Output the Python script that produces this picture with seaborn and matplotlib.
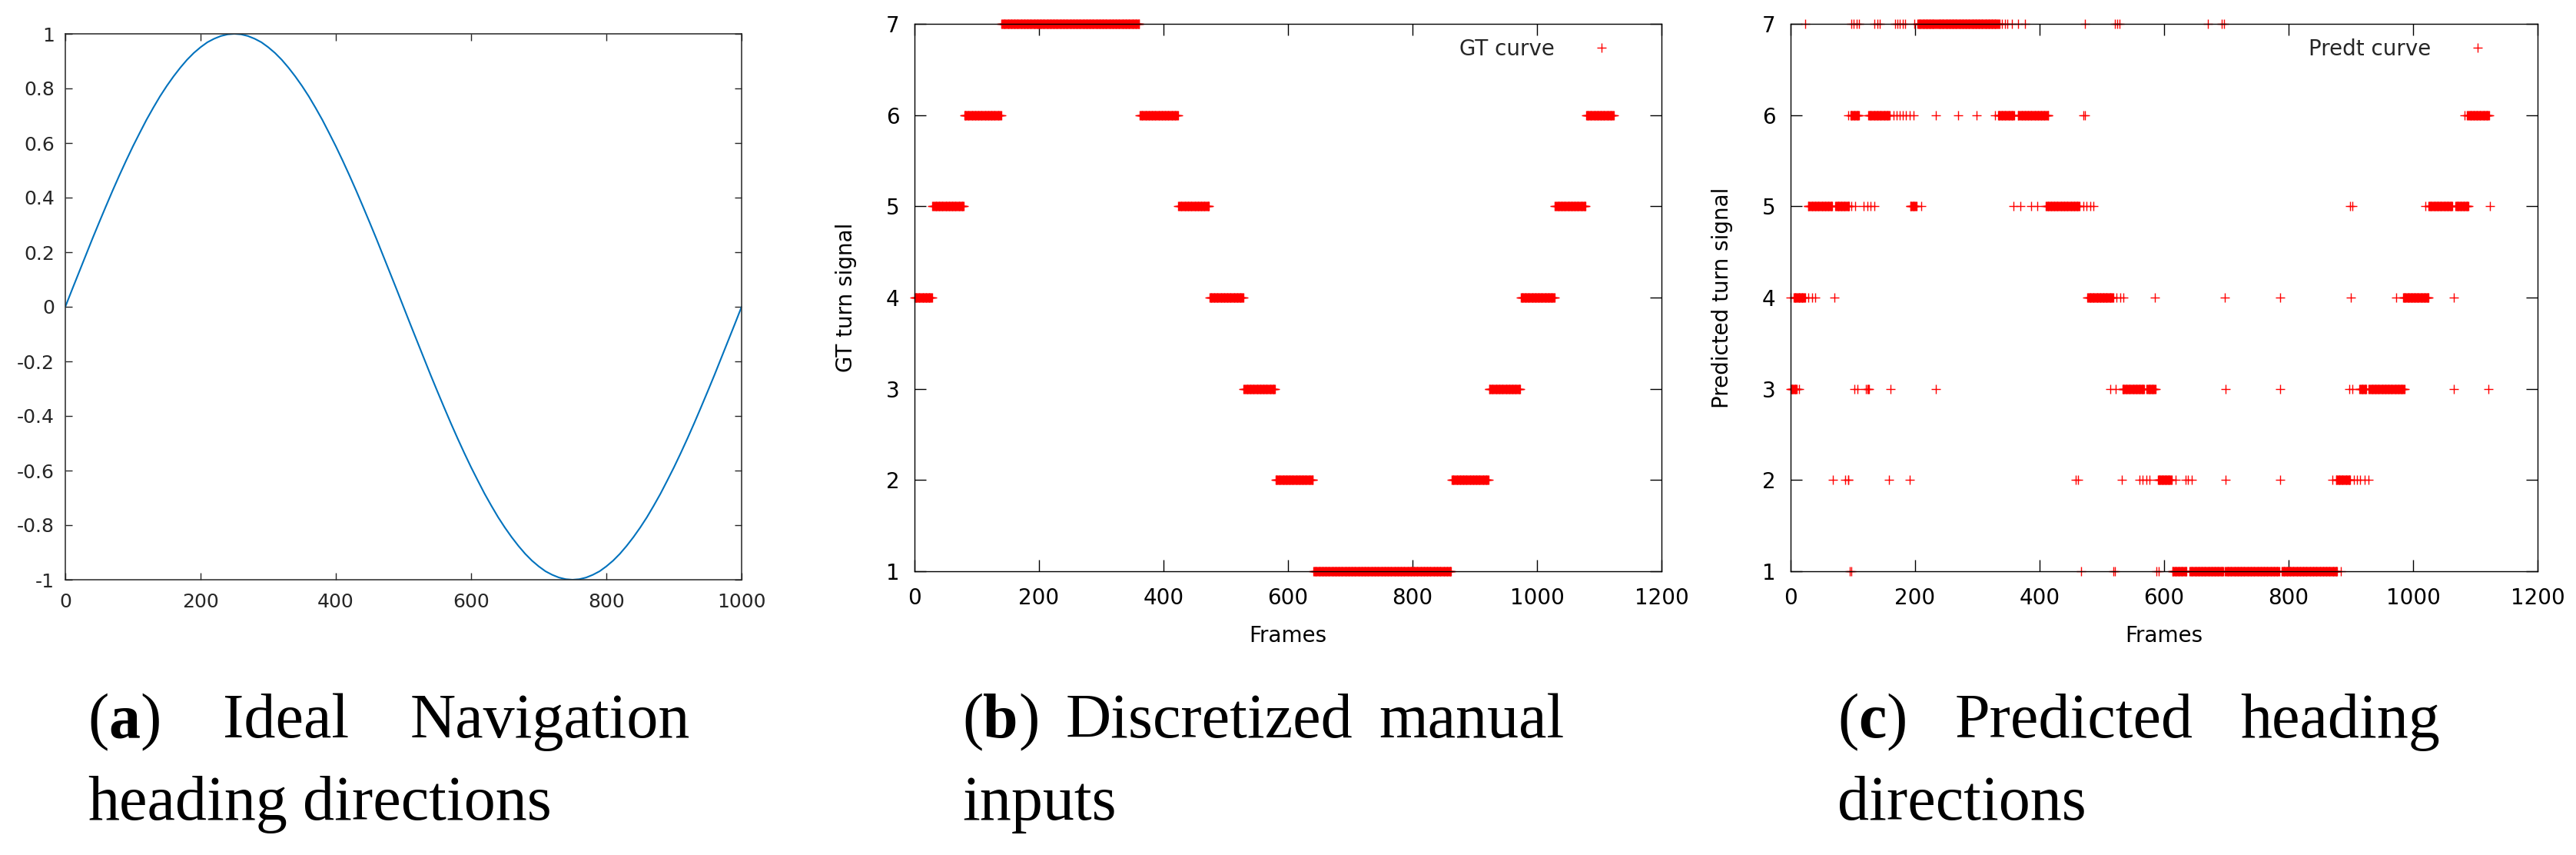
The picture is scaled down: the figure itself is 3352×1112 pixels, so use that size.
import numpy as np
import pandas as pd
import matplotlib
matplotlib.use("Agg")
import matplotlib.pyplot as plt
import seaborn as sns

# ---------------- data ----------------
# (a) ideal navigation heading direction, read every 10 frames (0..1000)
SINE_X = list(range(0, 1001, 10))
SINE_Y = [0.000, 0.063, 0.125, 0.187, 0.249, 0.309, 0.368, 0.426, 0.482, 0.536,
          0.588, 0.637, 0.685, 0.729, 0.771, 0.809, 0.844, 0.876, 0.905, 0.930,
          0.951, 0.969, 0.982, 0.992, 0.998, 1.000, 0.998, 0.992, 0.982, 0.969,
          0.951, 0.930, 0.905, 0.876, 0.844, 0.809, 0.771, 0.729, 0.685, 0.637,
          0.588, 0.536, 0.482, 0.426, 0.368, 0.309, 0.249, 0.187, 0.125, 0.063,
          0.000, -0.063, -0.125, -0.187, -0.249, -0.309, -0.368, -0.426, -0.482, -0.536,
          -0.588, -0.637, -0.685, -0.729, -0.771, -0.809, -0.844, -0.876, -0.905, -0.930,
          -0.951, -0.969, -0.982, -0.992, -0.998, -1.000, -0.998, -0.992, -0.982, -0.969,
          -0.951, -0.930, -0.905, -0.876, -0.844, -0.809, -0.771, -0.729, -0.685, -0.637,
          -0.588, -0.536, -0.482, -0.426, -0.368, -0.309, -0.249, -0.187, -0.125, -0.063,
          0.000]
A_XTICKS = [0, 200, 400, 600, 800, 1000]
A_YTICKS = [-1, -0.8, -0.6, -0.4, -0.2, 0, 0.2, 0.4, 0.6, 0.8, 1]
A_YTICKLABELS = ["-1", "-0.8", "-0.6", "-0.4", "-0.2", "0", "0.2", "0.4", "0.6", "0.8", "1"]

# (b) ground-truth turn signal: runs of (value, first frame, last frame)
GT_VALUE = [4, 5, 6, 7, 6, 5, 4, 3, 2, 1, 2, 3, 4, 5, 6]
GT_START = [0, 29, 80, 140, 362, 424, 474, 529, 580, 641, 863, 923, 974, 1029, 1079]
GT_END = [28, 79, 139, 361, 423, 473, 528, 579, 640, 862, 922, 973, 1028, 1078, 1123]

# (c) predicted turn signal: runs (first frame, last frame) per level
PRED_7 = [(24, 24), (97, 97), (101, 101), (106, 106), (110, 110), (135, 135), (139, 139),
          (143, 143), (168, 168), (171, 171), (175, 175), (180, 180), (184, 184), (199, 199),
          (204, 233), (235, 334), (336, 336), (340, 340), (344, 344), (348, 348), (355, 355),
          (365, 365), (377, 377), (473, 473), (521, 521), (525, 525), (529, 529), (670, 670),
          (692, 692), (696, 696)]
PRED_6 = [(93, 93), (96, 110), (125, 159), (166, 166), (170, 170), (175, 175), (180, 180),
          (185, 185), (191, 191), (197, 197), (233, 233), (269, 269), (299, 299), (328, 328),
          (333, 359), (365, 414), (470, 470), (473, 473), (1083, 1083), (1087, 1122)]
PRED_5 = [(28, 67), (72, 94), (98, 98), (104, 104), (117, 117), (123, 123), (129, 129),
          (135, 135), (192, 202), (210, 210), (358, 358), (369, 369), (386, 386), (396, 396),
          (410, 464), (470, 470), (475, 475), (481, 481), (487, 487), (899, 899), (902, 902),
          (1020, 1020), (1025, 1063), (1068, 1089), (1123, 1123)]
PRED_4 = [(0, 0), (5, 23), (28, 28), (34, 34), (40, 40), (70, 70), (477, 518), (524, 524),
          (530, 530), (535, 535), (585, 585), (697, 697), (787, 787), (900, 900), (973, 973),
          (984, 1025), (1065, 1065)]
PRED_3 = [(0, 10), (14, 14), (103, 103), (108, 108), (121, 121), (124, 126), (160, 160),
          (233, 233), (514, 514), (522, 522), (533, 568), (572, 586), (699, 699), (787, 787),
          (897, 897), (903, 903), (914, 925), (929, 986), (1066, 1066), (1121, 1121)]
PRED_2 = [(68, 68), (88, 88), (92, 93), (158, 158), (191, 191), (458, 458), (462, 462),
          (532, 532), (561, 561), (566, 566), (572, 572), (576, 576), (590, 612), (619, 619),
          (634, 634), (638, 638), (644, 644), (699, 699), (787, 787), (870, 870), (876, 899),
          (905, 905), (910, 910), (915, 915), (922, 922), (928, 928)]
PRED_1 = [(95, 95), (97, 97), (467, 467), (519, 519), (521, 521), (588, 588), (591, 591),
          (613, 636), (641, 695), (698, 785), (789, 878), (884, 884)]
PRED_LEVELS = [7, 6, 5, 4, 3, 2, 1]
PRED_RUNS = [PRED_7, PRED_6, PRED_5, PRED_4, PRED_3, PRED_2, PRED_1]

BC_XTICKS = [0, 200, 400, 600, 800, 1000, 1200]
BC_YTICKS = [1, 2, 3, 4, 5, 6, 7]

PANEL_LETTERS = ["a", "b", "c"]
CAPTION_LINE1 = ["Ideal Navigation", "Discretized manual", "Predicted heading"]
CAPTION_LINE2 = ["heading directions", "inputs", "directions"]

# ---------------- expand runs to per-frame points ----------------
gt_frames, gt_vals = [], []
for v, s, e in zip(GT_VALUE, GT_START, GT_END):
    for f in range(s, e + 1):
        gt_frames.append(f)
        gt_vals.append(v)
gt_df = pd.DataFrame({"Frames": gt_frames, "signal": gt_vals})

pr_frames, pr_vals = [], []
for lvl, runs in zip(PRED_LEVELS, PRED_RUNS):
    for s, e in runs:
        for f in range(s, e + 1):
            pr_frames.append(f)
            pr_vals.append(lvl)
pr_df = pd.DataFrame({"Frames": pr_frames, "signal": pr_vals})

sine_df = pd.DataFrame({"x": SINE_X, "y": SINE_Y})

# ---------------- figure ----------------
sns.set_style("ticks")
plt.rcParams["font.family"] = ["DejaVu Sans"]
plt.rcParams["axes.unicode_minus"] = False

W, H = 3352, 1112
DPI = 100
fig = plt.figure(figsize=(W / DPI, H / DPI), dpi=DPI)
fig.patch.set_facecolor("white")


def add_axes_px(left, top, right, bottom):
    return fig.add_axes([left / W, 1 - bottom / H, (right - left) / W, (bottom - top) / H])


axA = add_axes_px(85, 44, 965, 754)
axB = add_axes_px(1190, 31, 2162, 743)
axC = add_axes_px(2330, 31, 3302, 743)

# (a)
MATLAB_GRAY = "#262626"
sns.lineplot(data=sine_df, x="x", y="y", ax=axA, color="#0072BD", linewidth=1.5)
axA.set_xlim(0, 1000)
axA.set_ylim(-1, 1)
axA.set_xticks(A_XTICKS)
axA.set_yticks(A_YTICKS)
axA.set_yticklabels(A_YTICKLABELS)
axA.set_xlabel("")
axA.set_ylabel("")
for sp in axA.spines.values():
    sp.set_visible(True)
    sp.set_color(MATLAB_GRAY)
    sp.set_linewidth(1.1)
axA.tick_params(direction="in", length=6.5, width=1.0, top=True, right=True,
                colors=MATLAB_GRAY, labelsize=18)
axA.tick_params(axis="y", pad=10)
axA.tick_params(axis="x", pad=12)

# (b) and (c)
for ax, df, ylab, leg in [(axB, gt_df, "GT turn signal", "GT curve"),
                          (axC, pr_df, "Predicted turn signal", "Predt curve")]:
    sns.scatterplot(data=df, x="Frames", y="signal", ax=ax, marker="+", color="#ff0000",
                    s=81, linewidth=1.0, clip_on=False, zorder=1.2, label=leg)
    ax.set_xlim(0, 1200)
    ax.set_ylim(1, 7)
    ax.set_xticks(BC_XTICKS)
    ax.set_yticks(BC_YTICKS)
    for sp in ax.spines.values():
        sp.set_visible(True)
        sp.set_color("black")
        sp.set_linewidth(1.0)
    ax.tick_params(direction="in", length=10.8, width=1.0, top=True, right=True,
                   colors="black", labelsize=20)
    ax.tick_params(axis="y", pad=14)
    ax.tick_params(axis="x", pad=15)
    ax.set_xlabel("Frames", fontsize=20, color="black")
    ax.set_ylabel(ylab, fontsize=20, color="black")
    ax.xaxis.set_label_coords(0.5, -(813 - 743) / 712)
    ax.yaxis.set_label_coords(-0.077, 0.5)
    ax.legend(loc="upper right", bbox_to_anchor=(0.934, 0.974), frameon=False,
              markerfirst=False, fontsize=20, handlelength=1.0, handletextpad=1.69,
              borderpad=0, borderaxespad=0, scatteryoffsets=[0.5])

# ---------------- captions ----------------
renderer = fig.canvas.get_renderer()
CAP_FAMILY = "Liberation Serif"
CAP_FS = 59


def make_word(pieces):
    out = []
    for txt, wt in pieces:
        t = fig.text(0, 0, txt, fontsize=CAP_FS, family=CAP_FAMILY, weight=wt,
                     va="baseline", ha="left", color="black")
        out.append((t, t.get_window_extent(renderer).width))
    return out


def draw_line(words, left, baseline, right=None):
    built = [make_word(w) for w in words]
    widths = [sum(p[1] for p in w) for w in built]
    em = CAP_FS * DPI / 72.0
    if right is not None and len(built) > 1:
        gap = (right - left - sum(widths)) / (len(built) - 1)
    else:
        gap = 0.25 * em
    x = left
    for w in built:
        for t, wd in w:
            t.set_position((x / W, 1 - baseline / H))
            x += wd
        x += gap


CAP_LEFT = [114, 1252, 2391]
CAP_RIGHT = [898, 2035, 3175]
BASE1, BASE2 = 959, 1066

for i in range(3):
    words = [[("(", "normal"), (PANEL_LETTERS[i], "bold"), (")", "normal")]]
    words += [[(w, "normal")] for w in CAPTION_LINE1[i].split()]
    draw_line(words, CAP_LEFT[i], BASE1, CAP_RIGHT[i])
    words2 = [[(w, "normal")] for w in CAPTION_LINE2[i].split()]
    draw_line(words2, CAP_LEFT[i], BASE2, None)

fig.savefig("out.png", dpi=DPI, facecolor="white")
